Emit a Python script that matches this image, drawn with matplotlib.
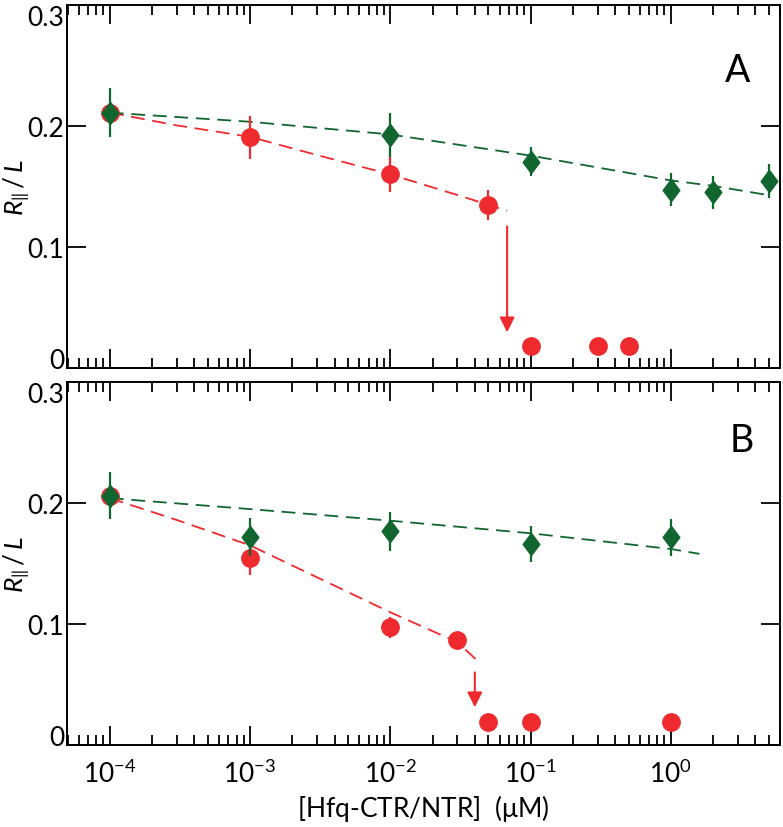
import numpy as np
import matplotlib
matplotlib.use('Agg')
import matplotlib.pyplot as plt
from matplotlib.path import Path
from matplotlib.ticker import LogLocator, NullFormatter, FixedLocator

plt.rcParams['font.family'] = ['Lato', 'DejaVu Sans']
plt.rcParams['mathtext.fontset'] = 'custom'
plt.rcParams['mathtext.rm'] = 'Lato'
plt.rcParams['mathtext.it'] = 'Lato:italic'
plt.rcParams['lines.scale_dashes'] = False

# panel A data
a_green_x = [1e-4, 1e-2, 1e-1, 1, 2, 5]
a_green_y = [0.211, 0.1926, 0.1705, 0.1474, 0.1452, 0.1548]
a_green_err = [0.02, 0.018, 0.012, 0.0135, 0.0135, 0.014]
a_red_x = [1e-4, 1e-3, 1e-2, 5e-2]
a_red_y = [0.211, 0.1906, 0.1603, 0.135]
a_red_err = [0.0, 0.018, 0.0145, 0.0124]
a_zero_x = [0.1, 0.3, 0.5]
a_zero_y = [0.018, 0.018, 0.018]
a_fit_green_x = [1e-4, 1e-3, 1e-2, 1e-1, 1, 2, 5]
a_fit_green_y = [0.211, 0.2035, 0.193, 0.1755, 0.155, 0.1505, 0.1428]
a_fit_red_x = [1e-4, 3e-4, 1e-3, 3e-3, 1e-2, 3e-2, 0.068]
a_fit_red_y = [0.211, 0.2005, 0.191, 0.176, 0.160, 0.143, 0.130]
a_arrow_x = 0.068
a_arrow_y = [0.117, 0.0295]

# panel B data
b_green_x = [1e-4, 1e-3, 1e-2, 1e-1, 1]
b_green_y = [0.206, 0.172, 0.1766, 0.166, 0.1716]
b_green_err = [0.0193, 0.016, 0.016, 0.015, 0.015]
b_red_x = [1e-4, 1e-3, 1e-2, 3e-2]
b_red_y = [0.206, 0.1545, 0.0972, 0.0868]
b_red_err = [0.0, 0.014, 0.009, 0.006]
b_zero_x = [0.05, 0.1, 1]
b_zero_y = [0.0187, 0.0187, 0.0187]
b_fit_green_x = [1e-4, 1e-3, 1e-2, 1e-1, 1, 1.6]
b_fit_green_y = [0.204, 0.195, 0.1854, 0.175, 0.162, 0.158]
b_fit_red_x = [1e-4, 3e-4, 1e-3, 3e-3, 1e-2, 3e-2, 0.041]
b_fit_red_y = [0.204, 0.186, 0.165, 0.1386, 0.1097, 0.085, 0.0705]
b_arrow_x = 0.04
b_arrow_y = [0.060, 0.0312]

y_ticks = [0, 0.1, 0.2, 0.3]
y_ticklabels = ['0', '0.1', '0.2', '0.3']

green = '#11662f'
red = '#ee2a2e'
diamond = Path([(0, 1), (0.75, 0), (0, -1), (-0.75, 0), (0, 1)],
               [Path.MOVETO, Path.LINETO, Path.LINETO, Path.LINETO, Path.CLOSEPOLY])

fig = plt.figure(figsize=(7.83, 8.28), dpi=100)
axA = fig.add_axes([0.0856, 0.5543, 0.9106, 0.4385])
axB = fig.add_axes([0.0856, 0.0990, 0.9106, 0.4384])


def draw(ax, gx, gy, ge, rx, ry, re, zx, zy, fgx, fgy, frx, fry, arx, ary, letter, lpos):
    ax.plot(frx, fry, color=red, lw=1.3, dashes=(10, 5.5), zorder=2)
    ax.plot(fgx, fgy, color=green, lw=1.3, dashes=(10, 5.5), zorder=2)
    ax.errorbar(rx, ry, yerr=re, fmt='o', color=red, ms=12.5, elinewidth=1.6,
                capsize=0, mec=red, zorder=3)
    ax.plot(zx, zy, 'o', color=red, ms=12.5, zorder=3)
    ax.errorbar(gx, gy, yerr=ge, fmt='none', ecolor=green, elinewidth=1.6, capsize=0, zorder=4)
    ax.plot(gx, gy, marker=diamond, ls='none', color=green, ms=16, zorder=5)
    ax.annotate('', xy=(arx, ary[1]), xytext=(arx, ary[0]),
                arrowprops=dict(arrowstyle='-|>,head_length=0.9,head_width=0.45',
                                color=red, lw=1.5, shrinkA=0, shrinkB=0))
    ax.text(lpos[0], lpos[1], letter, transform=ax.transAxes, fontsize=27,
            ha='center', va='center')
    ax.set_xscale('log')
    ax.set_xlim(4.95e-5, 6.0)
    ax.set_ylim(0, 0.3)
    ax.yaxis.set_major_locator(FixedLocator(y_ticks))
    labels = ax.set_yticklabels(y_ticklabels)
    labels[0].set_va('baseline')
    labels[-1].set_va('top')
    ax.xaxis.set_major_locator(LogLocator(base=10, numticks=20))
    ax.xaxis.set_minor_locator(LogLocator(base=10, subs=np.arange(2, 10), numticks=20))
    ax.xaxis.set_minor_formatter(NullFormatter())
    ax.tick_params(which='major', direction='in', length=14, width=1.3,
                   top=True, right=True, labelsize=19)
    ax.tick_params(axis='y', which='major', pad=2)
    ax.tick_params(axis='x', which='major', pad=10)
    ax.tick_params(which='minor', direction='in', length=7.5, width=1.3, top=True)
    for s in ax.spines.values():
        s.set_linewidth(1.4)
    ax.set_ylabel(r'$R_{\Vert}\,/\,L$', fontsize=19)
    ax.yaxis.set_label_coords(-0.049, 0.5)


draw(axA, a_green_x, a_green_y, a_green_err, a_red_x, a_red_y, a_red_err,
     a_zero_x, a_zero_y, a_fit_green_x, a_fit_green_y, a_fit_red_x, a_fit_red_y,
     a_arrow_x, a_arrow_y, 'A', (0.94, 0.82))
draw(axB, b_green_x, b_green_y, b_green_err, b_red_x, b_red_y, b_red_err,
     b_zero_x, b_zero_y, b_fit_green_x, b_fit_green_y, b_fit_red_x, b_fit_red_y,
     b_arrow_x, b_arrow_y, 'B', (0.947, 0.84))

axA.tick_params(labelbottom=False)
axB.set_xlabel(r'[Hfq-CTR/NTR]  ($\mathrm{\mu}$M)', fontsize=19, labelpad=4)

fig.savefig('out.png', dpi=100)
